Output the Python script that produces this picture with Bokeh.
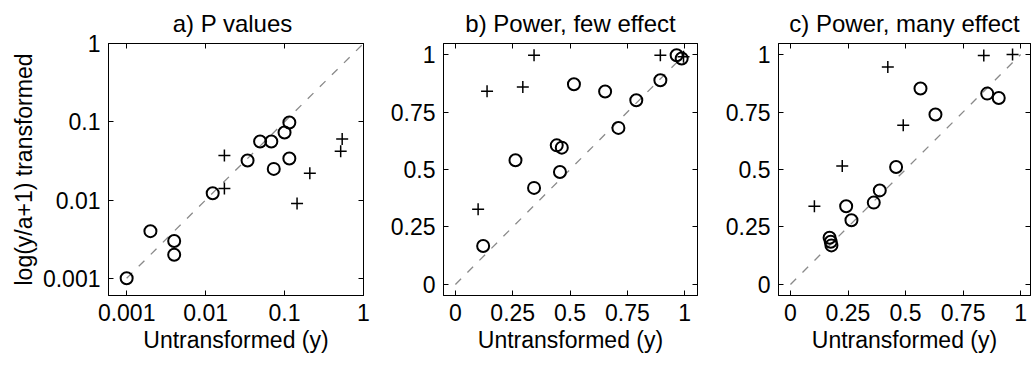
from bokeh.plotting import figure
from bokeh.layouts import row
from bokeh.models import (Range1d, FixedTicker, LinearAxis, LogAxis,
                          NumeralTickFormatter, CustomJSTickFormatter)
from bokeh.embed import file_html
from bokeh.resources import INLINE

# ---------------- data ----------------
# a) P values (log-log)
a_circle_x = [0.001, 0.002, 0.004, 0.004, 0.0123, 0.034, 0.049, 0.068, 0.073, 0.100, 0.115, 0.115]
a_circle_y = [0.001, 0.004, 0.003, 0.002, 0.0122, 0.032, 0.056, 0.056, 0.025, 0.073, 0.098, 0.034]
a_plus_x = [0.0173, 0.0173, 0.144, 0.209, 0.514, 0.537]
a_plus_y = [0.037, 0.014, 0.009, 0.022, 0.042, 0.060]
# b) Power, few effect
b_circle_x = [0.121, 0.262, 0.343, 0.442, 0.464, 0.456, 0.517, 0.653, 0.711, 0.789, 0.894, 0.965, 0.987]
b_circle_y = [0.167, 0.540, 0.420, 0.605, 0.595, 0.489, 0.871, 0.839, 0.681, 0.801, 0.888, 0.997, 0.983]
b_plus_x = [0.099, 0.138, 0.294, 0.343, 0.894, 0.995]
b_plus_y = [0.327, 0.840, 0.859, 0.997, 0.997, 0.990]
# c) Power, many effect
c_circle_x = [0.170, 0.175, 0.178, 0.242, 0.265, 0.362, 0.388, 0.459, 0.565, 0.630, 0.855, 0.905]
c_circle_y = [0.203, 0.186, 0.170, 0.340, 0.279, 0.356, 0.409, 0.511, 0.852, 0.739, 0.830, 0.811]
c_plus_x = [0.104, 0.225, 0.423, 0.490, 0.840, 0.965]
c_plus_y = [0.340, 0.515, 0.946, 0.692, 0.996, 1.000]

diag_log = [0.001, 1.0]
diag_lin = [0.0, 1.0]

log_ticks = [0.001, 0.01, 0.1, 1]
lin_ticks = [0, 0.25, 0.5, 0.75, 1]

titles = ["a) P  values", "b) Power, few effect", "c) Power, many effect"]
xlabel = "Untransformed (y)"
ylabel = "log(y/a+1) transformed"

FONT = "Liberation Sans"
FS = "23px"
FRAME_H = 252


def make_panel(title, xr, yr, log, frame_w, left, right, ticks, fmt,
               cx, cy, px, py, diag, right_axis=True):
    kw = dict(x_axis_type="log", y_axis_type="log") if log else {}
    p = figure(title=title, frame_width=frame_w, frame_height=FRAME_H,
               x_range=Range1d(*xr), y_range=Range1d(*yr),
               min_border_left=left, min_border_right=right,
               min_border_top=43, min_border_bottom=63,
               toolbar_location=None, output_backend="svg", **kw)
    p.grid.visible = False
    p.outline_line_color = "black"
    p.outline_line_width = 1
    p.background_fill_color = "white"
    p.border_fill_color = "white"

    p.title.align = "center"
    p.title.text_font = FONT
    p.title.text_font_size = "24px"
    p.title.text_font_style = "normal"
    p.title.text_color = "black"
    p.title.standoff = 14

    xax = p.below[0]
    yax = p.left[0]
    for ax in (xax, yax):
        ax.ticker = FixedTicker(ticks=ticks)
        ax.formatter = NumeralTickFormatter(format=fmt)
        ax.major_tick_in = 5
        ax.major_tick_out = 0
        ax.minor_tick_line_color = None
        ax.axis_line_color = "black"
        ax.major_tick_line_color = "black"
        ax.major_label_text_font = FONT
        ax.major_label_text_font_size = FS
        ax.major_label_text_color = "black"
        ax.axis_label_text_font = FONT
        ax.axis_label_text_font_size = FS
        ax.axis_label_text_font_style = "normal"
        ax.axis_label_text_color = "black"
    xax.major_label_standoff = 8
    yax.major_label_standoff = 8
    xax.axis_label = xlabel
    xax.axis_label_standoff = 3

    AxisCls = LogAxis if log else LinearAxis
    sides = ["above"] + (["right"] if right_axis else [])
    for side in sides:
        ax = AxisCls(ticker=FixedTicker(ticks=ticks),
                     formatter=CustomJSTickFormatter(code="return ''"))
        ax.major_tick_in = 5
        ax.major_tick_out = 0
        ax.minor_tick_line_color = None
        ax.major_label_text_font_size = "1px"
        ax.major_label_standoff = 0
        ax.axis_line_color = "black"
        p.add_layout(ax, side)

    p.line(diag, diag, line_color="#8a8a8a", line_width=1.3, line_dash="8 9")
    p.scatter(cx, cy, marker="circle", size=12, fill_color=None,
              line_color="black", line_width=2)
    p.scatter(px, py, marker="cross", size=12, line_color="black", line_width=1.5)
    return p


# ---- panel a ----
pa = make_panel(titles[0], (10 ** -3.23, 1.0), (10 ** -3.22, 1.0), True, 255, 108, 10,
                log_ticks, "0.[000]", a_circle_x, a_circle_y, a_plus_x, a_plus_y, diag_log)
pa.left[0].axis_label = ylabel
pa.left[0].axis_label_standoff = 3

# ---- panel b ----
pb = make_panel(titles[1], (-0.052, 1.056), (-0.048, 1.048), False, 254, 70, 10,
                lin_ticks, "0.[00]", b_circle_x, b_circle_y, b_plus_x, b_plus_y, diag_lin)

# ---- panel c ----
pc = make_panel(titles[2], (-0.052, 1.043), (-0.048, 1.048), False, 252, 71, 1,
                lin_ticks, "0.[00]", c_circle_x, c_circle_y, c_plus_x, c_plus_y, diag_lin)

layout = row(pa, pb, pc)
open("out.html", "w").write(file_html(layout, INLINE))
